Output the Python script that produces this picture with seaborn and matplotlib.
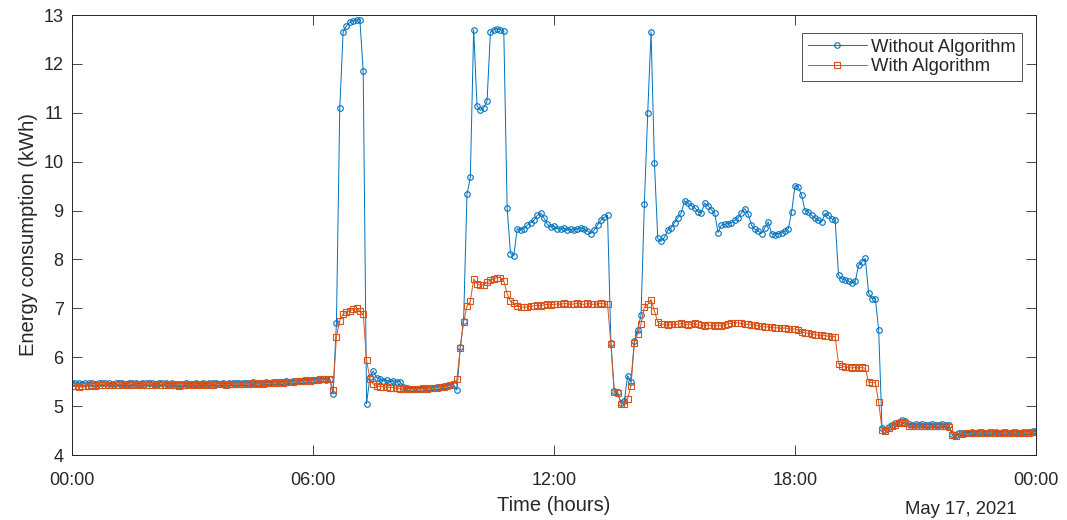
import numpy as np
import pandas as pd
import matplotlib.pyplot as plt
import matplotlib.dates as mdates
import seaborn as sns

sns.set_theme(style="ticks")
plt.rcParams.update({
    'font.family': ['Liberation Sans', 'DejaVu Sans'],
    'text.color': '#262626',
    'axes.labelcolor': '#262626',
    'xtick.color': '#262626',
    'ytick.color': '#262626',
    'axes.edgecolor': '#262626',
    'axes.linewidth': 0.7,
    'xtick.direction': 'in',
    'ytick.direction': 'in',
    'xtick.top': True,
    'ytick.right': True,
})

# energy consumption every 5 minutes, one row per hour (kWh)
without_algorithm = [
    5.48, 5.47, 5.48, 5.46, 5.47, 5.48, 5.47, 5.46, 5.47, 5.48, 5.47, 5.47,
    5.46, 5.47, 5.48, 5.47, 5.46, 5.47, 5.48, 5.47, 5.46, 5.47, 5.48, 5.47,
    5.47, 5.46, 5.47, 5.48, 5.47, 5.46, 5.47, 5.46, 5.45, 5.46, 5.47, 5.46,
    5.46, 5.47, 5.46, 5.47, 5.46, 5.47, 5.48, 5.47, 5.46, 5.47, 5.46, 5.47,
    5.47, 5.48, 5.47, 5.48, 5.47, 5.48, 5.49, 5.48, 5.47, 5.48, 5.49, 5.48,
    5.49, 5.50, 5.49, 5.50, 5.51, 5.50, 5.51, 5.52, 5.51, 5.52, 5.53, 5.52,
    5.53, 5.54, 5.53, 5.55, 5.54, 5.55, 5.25, 6.70, 11.10, 12.65, 12.78, 12.85,
    12.88, 12.90, 12.90, 11.85, 5.05, 5.60, 5.72, 5.58, 5.55, 5.52, 5.53, 5.50,
    5.52, 5.50, 5.50, 5.40, 5.37, 5.36, 5.35, 5.36, 5.35, 5.36, 5.37, 5.38,
    5.38, 5.39, 5.40, 5.41, 5.42, 5.43, 5.44, 5.33, 6.20, 6.75, 9.33, 9.68,
    12.70, 11.14, 11.05, 11.10, 11.24, 12.65, 12.70, 12.72, 12.70, 12.67, 9.05, 8.12,
    8.08, 8.63, 8.60, 8.63, 8.70, 8.75, 8.80, 8.90, 8.95, 8.85, 8.72, 8.66,
    8.68, 8.63, 8.62, 8.64, 8.60, 8.62, 8.60, 8.63, 8.65, 8.62, 8.58, 8.53,
    8.60, 8.70, 8.80, 8.86, 8.90, 6.30, 5.30, 5.28, 5.07, 5.10, 5.62, 5.50,
    6.33, 6.55, 6.87, 9.14, 11.00, 12.66, 9.98, 8.43, 8.37, 8.45, 8.60, 8.65,
    8.75, 8.85, 8.95, 9.20, 9.15, 9.10, 9.06, 8.98, 8.95, 9.15, 9.10, 9.02,
    8.95, 8.55, 8.70, 8.72, 8.73, 8.75, 8.80, 8.85, 8.95, 9.04, 8.93, 8.70,
    8.62, 8.58, 8.53, 8.65, 8.77, 8.53, 8.50, 8.53, 8.55, 8.58, 8.63, 8.97,
    9.51, 9.48, 9.31, 9.00, 8.97, 8.90, 8.85, 8.80, 8.77, 8.94, 8.90, 8.83,
    8.80, 7.68, 7.60, 7.58, 7.55, 7.52, 7.55, 7.88, 7.95, 8.02, 7.31, 7.20,
    7.20, 6.56, 4.55, 4.52, 4.57, 4.62, 4.65, 4.68, 4.72, 4.70, 4.63, 4.62,
    4.63, 4.62, 4.63, 4.62, 4.62, 4.63, 4.62, 4.62, 4.63, 4.62, 4.61, 4.42,
    4.40, 4.44, 4.45, 4.46, 4.46, 4.47, 4.46, 4.47, 4.47, 4.46, 4.47, 4.47,
    4.47, 4.46, 4.47, 4.47, 4.46, 4.47, 4.47, 4.46, 4.47, 4.47, 4.48, 4.50,
    4.50,
]

with_algorithm = [
    5.42, 5.41, 5.40, 5.42, 5.41, 5.42, 5.43, 5.42, 5.43, 5.44, 5.43, 5.44,
    5.44, 5.43, 5.44, 5.45, 5.44, 5.45, 5.44, 5.45, 5.44, 5.45, 5.44, 5.43,
    5.44, 5.45, 5.44, 5.43, 5.44, 5.45, 5.44, 5.43, 5.42, 5.43, 5.44, 5.45,
    5.44, 5.45, 5.44, 5.45, 5.44, 5.45, 5.44, 5.45, 5.46, 5.45, 5.44, 5.45,
    5.45, 5.46, 5.45, 5.46, 5.45, 5.46, 5.47, 5.46, 5.47, 5.46, 5.47, 5.48,
    5.47, 5.48, 5.49, 5.48, 5.50, 5.49, 5.50, 5.51, 5.52, 5.51, 5.53, 5.52,
    5.53, 5.54, 5.55, 5.56, 5.55, 5.56, 5.32, 6.42, 6.75, 6.88, 6.92, 6.95,
    6.98, 7.00, 6.95, 6.88, 5.95, 5.55, 5.45, 5.42, 5.40, 5.40, 5.39, 5.38,
    5.38, 5.37, 5.36, 5.37, 5.36, 5.35, 5.36, 5.35, 5.36, 5.37, 5.36, 5.37,
    5.38, 5.38, 5.39, 5.40, 5.41, 5.43, 5.45, 5.55, 6.19, 6.73, 7.04, 7.14,
    7.60, 7.50, 7.47, 7.48, 7.53, 7.58, 7.60, 7.63, 7.63, 7.56, 7.30, 7.14,
    7.10, 7.05, 7.03, 7.02, 7.03, 7.04, 7.05, 7.06, 7.05, 7.07, 7.08, 7.07,
    7.08, 7.09, 7.08, 7.10, 7.09, 7.08, 7.09, 7.10, 7.09, 7.08, 7.10, 7.09,
    7.08, 7.09, 7.10, 7.09, 7.08, 6.27, 5.28, 5.27, 5.05, 5.05, 5.15, 5.42,
    6.30, 6.48, 6.68, 7.03, 7.08, 7.18, 6.95, 6.72, 6.67, 6.68, 6.65, 6.67,
    6.68, 6.67, 6.69, 6.68, 6.66, 6.67, 6.69, 6.67, 6.65, 6.64, 6.66, 6.65,
    6.64, 6.65, 6.64, 6.66, 6.68, 6.70, 6.71, 6.70, 6.69, 6.68, 6.67, 6.66,
    6.66, 6.64, 6.63, 6.62, 6.62, 6.61, 6.60, 6.60, 6.59, 6.60, 6.58, 6.57,
    6.58, 6.55, 6.52, 6.50, 6.49, 6.48, 6.46, 6.45, 6.45, 6.44, 6.43, 6.42,
    6.42, 5.87, 5.82, 5.80, 5.79, 5.78, 5.79, 5.78, 5.79, 5.77, 5.49, 5.48,
    5.48, 5.08, 4.52, 4.50, 4.55, 4.59, 4.62, 4.65, 4.68, 4.66, 4.60, 4.59,
    4.60, 4.59, 4.60, 4.59, 4.59, 4.60, 4.59, 4.59, 4.60, 4.59, 4.58, 4.40,
    4.38, 4.42, 4.43, 4.44, 4.44, 4.45, 4.44, 4.45, 4.45, 4.44, 4.45, 4.45,
    4.45, 4.44, 4.45, 4.45, 4.44, 4.45, 4.45, 4.44, 4.45, 4.45, 4.46, 4.48,
    4.48,
]

times = pd.date_range("2021-05-17 00:00", periods=len(without_algorithm), freq="5min")
series_names = ["Without Algorithm", "With Algorithm"]
colors = ["#0072BD", "#D95319"]
markers = ["o", "s"]

fig, ax = plt.subplots(figsize=(10.67, 5.2), dpi=100)
fig.subplots_adjust(left=72/1067, right=1036/1067, top=1-15/520, bottom=1-455/520)

for name, vals, c, m in zip(series_names, [without_algorithm, with_algorithm], colors, markers):
    sns.lineplot(x=times, y=vals, ax=ax, label=name, color=c, marker=m,
                 markersize=4, markerfacecolor="none", markeredgecolor=c,
                 markeredgewidth=0.8, linewidth=0.7)

ax.set_xlim(pd.Timestamp("2021-05-17 00:00"), pd.Timestamp("2021-05-18 00:00"))
ax.set_ylim(4, 13)
ax.set_yticks(range(4, 14))
ax.xaxis.set_major_locator(mdates.HourLocator(byhour=[0, 6, 12, 18]))
ax.xaxis.set_major_formatter(mdates.DateFormatter("%H:%M"))
ax.tick_params(axis="both", labelsize=13, length=7, width=0.6)
ax.tick_params(axis="x", pad=12)
ax.tick_params(axis="y", pad=6)

ax.set_xlabel("Time (hours)", fontsize=14.5, labelpad=5)
ax.set_ylabel("Energy consumption (kWh)", fontsize=14.5, labelpad=4)
ax.text(0.98, -0.105, "May 17, 2021", transform=ax.transAxes, ha="right", va="top",
        fontsize=13.3)

leg = ax.legend(loc="upper right", bbox_to_anchor=(0.985, 0.959), borderaxespad=0,
                fontsize=13.3, frameon=True, fancybox=False, handlelength=3.2,
                handletextpad=0.25, borderpad=0.3, labelspacing=0.15, numpoints=1)
leg.get_frame().set_edgecolor("#262626")
leg.get_frame().set_linewidth(0.7)

fig.savefig("out.png", dpi=100, facecolor="white")
